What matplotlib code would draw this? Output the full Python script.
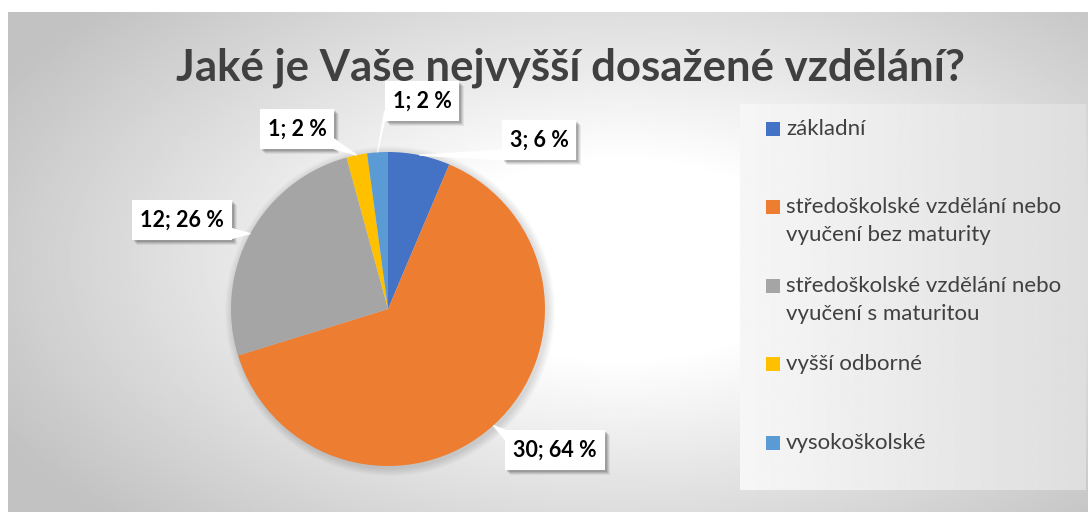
import numpy as np
import matplotlib.pyplot as plt
from matplotlib.patches import Rectangle, Polygon, Circle

# chart data
categories = [
    "základní",
    "středoškolské vzdělání nebo\nvyučení bez maturity",
    "středoškolské vzdělání nebo\nvyučení s maturitou",
    "vyšší odborné",
    "vysokoškolské",
]
counts = [3, 30, 12, 1, 1]
colors = ["#4472C4", "#ED7D31", "#A5A5A5", "#FFC000", "#5B9BD5"]
title = "Jaké je Vaše nejvyšší dosažené vzdělání?"

W, H = 1088, 515
plt.rcParams['font.family'] = ['Lato', 'DejaVu Sans']

fig = plt.figure(figsize=(W / 100, H / 100), dpi=100)
ax = fig.add_axes([0, 0, 1, 1])


def Y(p):
    # pixel row -> data y (y axis points up)
    return H - p


# radial grey background of the chart area (white in the middle)
gx, gy = np.meshgrid(np.linspace(8, W, 400), np.linspace(12, 512, 200))
d = np.hypot((gx - 620) / 620, (gy - 260) / 330)
bg = 1 - 0.2 * np.clip((d - 0.3) / 0.7, 0, 1.2)
ax.imshow(bg, cmap='gray', vmin=0, vmax=1, extent=(8, W, Y(512), Y(12)),
          origin='upper', aspect='auto', interpolation='bilinear', zorder=0)

# pie with a soft shadow
cx, cy, r = 388, Y(309), 157
for k in range(1, 9):
    ax.add_patch(Circle((cx + 2, cy - 2), r + k, facecolor='black',
                        alpha=0.015, lw=0, zorder=1))
wedges, _ = ax.pie(counts, colors=colors, startangle=90, counterclock=False,
                   center=(cx, cy), radius=r, wedgeprops=dict(linewidth=0))
for w in wedges:
    w.set_zorder(2)

ax.set_xlim(0, W)
ax.set_ylim(0, H)
ax.set_aspect('auto')
ax.axis('off')

# data labels in white callout boxes
total = sum(counts)
label_pos = [(539, 140), (555, 450), (182, 220), (297, 129), (422, 101)]
fig.canvas.draw()
renderer = fig.canvas.get_renderer()
cum = 0
for c, (lx, ly) in zip(counts, label_pos):
    mid = 90 - (cum + c / 2) / total * 360
    cum += c
    tipx = cx + r * np.cos(np.radians(mid))
    tipy = cy + r * np.sin(np.radians(mid))

    pct = round(100 * c / total)
    t = ax.text(lx, Y(ly), f"{c}; {pct} %", ha='center', va='center',
                fontsize=15.5, fontweight='bold', color='black', zorder=6)
    bb = t.get_window_extent(renderer)
    x0, x1 = bb.x0 - 8, bb.x1 + 8
    y0, y1 = Y(ly) - 20, Y(ly) + 20

    # soft shadow
    for k, a in [(5, 0.06), (4, 0.08), (3, 0.1), (2, 0.12)]:
        ax.add_patch(Rectangle((x0 + k, y0 - k), x1 - x0, y1 - y0,
                               facecolor='black', alpha=a, lw=0, zorder=3))
    # callout tail
    px = min(max(tipx, x0), x1)
    py = min(max(tipy, y0), y1)
    if px in (x0, x1):
        base = [(px, min(max(py - 5, y0), y1 - 10)), (px, min(max(py + 5, y0 + 10), y1))]
    else:
        base = [(min(max(px - 5, x0), x1 - 10), py), (min(max(px + 5, x0 + 10), x1), py)]
    ax.add_patch(Polygon([(tipx, tipy)] + base, closed=True, facecolor='white',
                         edgecolor='white', lw=0.8, zorder=4))
    ax.add_patch(Rectangle((x0, y0), x1 - x0, y1 - y0, facecolor='white',
                           lw=0, zorder=5))

# title
ax.text(570, Y(80), title, ha='center', va='baseline', fontsize=31.5,
        fontweight='bold', color='#404040', zorder=4)

# legend box with its own light gradient
lx0, ly0, lx1, ly1 = 740, 104, 1086, 490
lg = np.linspace(0.965, 0.87, 200)[None, :]
ax.imshow(lg, cmap='gray', vmin=0, vmax=1, extent=(lx0, lx1, Y(ly1), Y(ly0)),
          aspect='auto', interpolation='bilinear', zorder=1)

item_y = [129, 207, 286, 364, 443]
for name, col, yy in zip(categories, colors, item_y):
    ax.add_patch(Rectangle((766, Y(yy) - 7), 14, 14, facecolor=col, lw=0, zorder=6))
    for i, line in enumerate(name.split("\n")):
        ax.text(786, Y(yy + 28 * i), line, ha='left', va='center',
                fontsize=16, color='#404040', zorder=6)

fig.savefig("out.png", dpi=100, facecolor='white')
